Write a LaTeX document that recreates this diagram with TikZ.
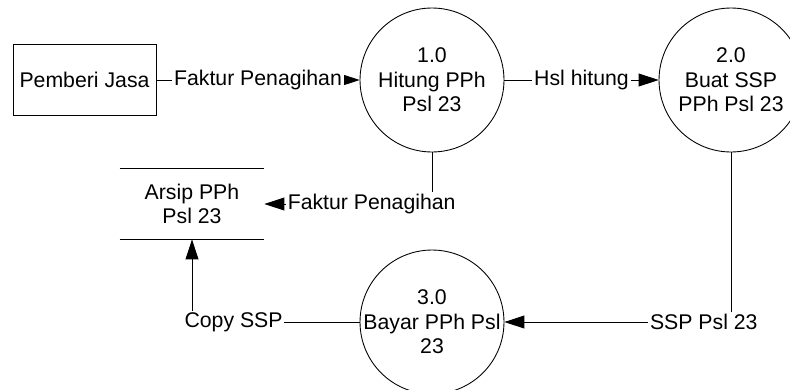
\documentclass[tikz,border=0pt]{standalone}
\usepackage{fontspec}
\setmainfont{Liberation Sans}
\usetikzlibrary{arrows.meta, positioning}

\tikzset{
    proc/.style={draw, circle, minimum size=2.88cm, inner sep=0pt, align=center},
    entity/.style={draw, rectangle, minimum width=2.86cm, minimum height=1.42cm},
    store/.style={minimum width=2.88cm, minimum height=1.4cm, align=center},
    flow/.style={-{Triangle[length=0.4cm, width=0.26cm]}},
    lbl/.style={fill=white, inner sep=1pt}
}

\begin{document}
\begin{tikzpicture}[x=0.02cm, y=-0.02cm, line width=0.5pt, font=\fontsize{12.1}{13.9}\selectfont]
\clip (0,0) rectangle (790,389);

% Entitas dan proses
\node[entity] (pj) at (84.5,80) {Pemberi Jasa};
\node[proc] (p1) at (432,80) {1.0\\Hitung PPh\\Psl 23};
\node[proc] (p2) at (731,80) {2.0\\Buat SSP\\PPh Psl 23};
\node[proc] (p3) at (432,322) {3.0\\\makebox[2cm]{Bayar PPh Psl}\\23};

% Data store
\node[store] (arsip) at (192,204) {Arsip PPh\\Psl 23};
\draw (arsip.north west) -- (arsip.north east);
\draw (arsip.south west) -- (arsip.south east);

% Aliran data
\draw[flow] (pj.east) -- node[lbl] (f1) {Faktur Penagihan} (p1.west);
\draw[flow] (p1.east) -- node[lbl] (f2) {Hsl hitung} (p2.west);
\draw[flow] (p2.south) |- node[lbl, pos=0.56] (f3) {SSP Psl 23} (p3.east);
\draw[flow] (p1.south) |- node[lbl, pos=0.68] (f4) {Faktur Penagihan} (arsip.east);
\draw[flow] (p3.west) -| node[lbl, pos=0.376] (f5) {Copy SSP} (arsip.south);
\end{tikzpicture}
\end{document}
